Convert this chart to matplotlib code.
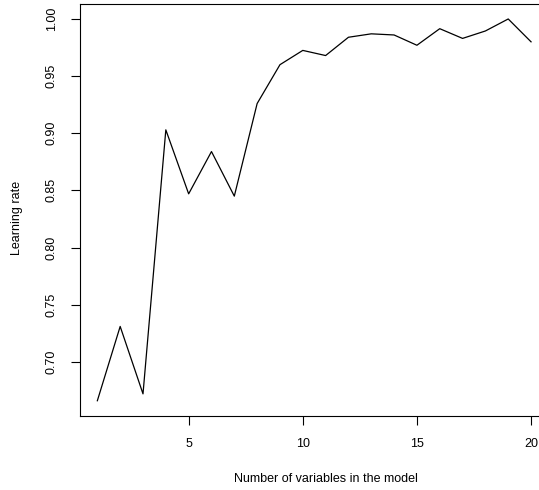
import matplotlib
matplotlib.use("Agg")
import matplotlib.pyplot as plt

n_vars = list(range(1, 21))
learning_rate = [0.666, 0.731, 0.672, 0.903, 0.847, 0.884, 0.845, 0.926, 0.960,
                 0.9725, 0.968, 0.984, 0.987, 0.986, 0.977, 0.9915, 0.983, 0.9895,
                 1.000, 0.980]
x_ticks = [5, 10, 15, 20]
y_ticks = [0.70, 0.75, 0.80, 0.85, 0.90, 0.95, 1.00]

plt.rcParams['font.family'] = ['Liberation Sans', 'DejaVu Sans']

W, H = 539, 490
fig = plt.figure(figsize=(W / 100, H / 100), dpi=100)
left, right, top, bottom = 80, 548.4, 3.7, 416
ax = fig.add_axes([left / W, (H - bottom) / H, (right - left) / W, (bottom - top) / H])

ax.plot(n_vars, learning_rate, color='black', linewidth=0.9)

xmin, xmax = min(n_vars), max(n_vars)
dx = (xmax - xmin) * 0.04
ax.set_xlim(xmin - dx, xmax + dx)
ymin, ymax = min(learning_rate), max(learning_rate)
dy = (ymax - ymin) * 0.04
ax.set_ylim(ymin - dy, ymax + dy)

ax.set_xticks(x_ticks)
ax.set_xticklabels([str(t) for t in x_ticks])
ax.set_yticks(y_ticks)
ax.set_yticklabels([f"{t:.2f}" for t in y_ticks], rotation=90, va='center')

ax.tick_params(axis='both', direction='out', length=6.5, width=0.8, labelsize=9, pad=9.5, color='black')
for s in ax.spines.values():
    s.set_linewidth(0.8)
    s.set_color('black')

fig.text(326 / W, 1 - 479 / H, "Number of variables in the model", ha='center', va='center', fontsize=9)
fig.text(17 / W, 1 - 218 / H, "Learning rate", ha='center', va='center', rotation=90, fontsize=9)

fig.savefig("out.png", dpi=100)
